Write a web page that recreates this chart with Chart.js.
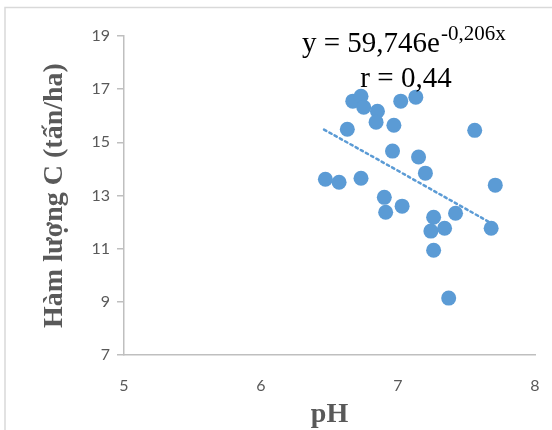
<!DOCTYPE html>
<html>
<head>
<meta charset="utf-8">
<script src="https://cdn.jsdelivr.net/npm/chart.js@4"></script>
<style>
  html, body { margin: 0; padding: 0; background: #fff; }
  #wrap { width: 552px; height: 430px; }
</style>
</head>
<body>
<div id="wrap"><canvas id="myChart" width="552" height="430"></canvas></div>
<script>
// pH vs carbon content
var phValues = [6.67, 6.73, 6.75, 6.85, 6.84, 6.97, 7.02, 7.13, 6.63,
                6.47, 6.57, 6.73, 6.90, 6.91, 7.03, 7.26, 7.24, 7.34,
                7.42, 7.68, 7.26, 7.56, 6.96, 7.15, 7.20, 7.71, 7.37];
var carbonValues = [16.55, 16.73, 16.32, 16.17, 15.76, 15.64, 16.55, 16.70, 15.49,
                    13.61, 13.50, 13.65, 12.93, 12.37, 12.60, 12.18, 11.66, 11.77,
                    12.33, 11.77, 10.94, 15.45, 14.67, 14.45, 13.84, 13.39, 9.14];
// dotted trend line ends (as drawn)
var trendX = [6.46, 7.00, 7.68];
var trendY = [15.48, 13.93, 11.96];
var yTicks = [7, 9, 11, 13, 15, 17, 19];
var xTicks = [5, 6, 7, 8];

var blue = '#5b9bd5';
var grey = '#595959';
var axisGrey = '#bfbfbf';

var points = phValues.map(function (x, i) { return { x: x, y: carbonValues[i] }; });
var trend = trendX.map(function (x, i) { return { x: x, y: trendY[i] }; });

var frameAndText = {
    id: 'frameAndText',
    beforeDraw: function (chart) {
        var c = chart.ctx;
        c.save();
        c.fillStyle = '#fff';
        c.fillRect(0, 0, chart.width, chart.height);
        c.strokeStyle = '#d9d9d9';
        c.lineWidth = 1.5;
        c.strokeRect(5, 7.5, 700, 600);
        c.restore();
    },
    afterDraw: function (chart) {
        var c = chart.ctx;
        c.save();
        c.fillStyle = '#000';
        c.textBaseline = 'alphabetic';
        c.textAlign = 'left';
        c.font = '29px "Liberation Serif"';
        var main = 'y = 59,746e';
        c.fillText(main, 302, 52);
        var w = c.measureText(main).width;
        c.font = '21px "Liberation Serif"';
        c.fillText('-0,206x', 302 + w + 1, 40);
        c.font = '29px "Liberation Serif"';
        c.textAlign = 'center';
        c.fillText('r = 0,44', 406, 87);
        c.restore();
    }
};

var ctx = document.getElementById('myChart').getContext('2d');
var myChart = new Chart(ctx, {
    type: 'scatter',
    data: {
        datasets: [{
            label: 'trend',
            type: 'line',
            data: trend,
            borderColor: blue,
            borderWidth: 2.5,
            borderDash: [2.5, 3.5],
            borderCapStyle: 'round',
            pointRadius: 0,
            fill: false,
            tension: 0.4
        }, {
            label: 'data',
            data: points,
            backgroundColor: blue,
            borderColor: blue,
            borderWidth: 0,
            pointRadius: 7.5
        }]
    },
    options: {
        responsive: false,
        animation: false,
        layout: { autoPadding: false, padding: { top: 36, right: 17, left: 0, bottom: 0 } },
        plugins: {
            legend: { display: false },
            tooltip: { enabled: false }
        },
        scales: {
            x: {
                type: 'linear',
                min: 5, max: 8,
                afterBuildTicks: function (s) { s.ticks = xTicks.map(function (v) { return { value: v }; }); },
                afterFit: function (s) { s.height = 75; },
                // invisible tick marks only push the labels down
                grid: { drawOnChartArea: false, drawTicks: true, tickLength: 19, color: 'rgba(0,0,0,0)' },
                border: { color: axisGrey, width: 1.5 },
                ticks: { color: grey, padding: 2, font: { family: 'Lato', size: 16 } },
                title: {
                    display: true, text: 'pH', color: grey,
                    font: { family: 'Liberation Serif', size: 28, weight: 'bold' },
                    padding: { top: 0, bottom: -2 }
                }
            },
            y: {
                min: 7, max: 19,
                afterBuildTicks: function (s) { s.ticks = yTicks.map(function (v) { return { value: v }; }); },
                afterFit: function (s) { s.width = 124; },
                grid: { drawOnChartArea: false, drawTicks: true, tickLength: 7, color: axisGrey, lineWidth: 1.5 },
                border: { color: axisGrey, width: 1.5 },
                ticks: { color: grey, padding: 7, font: { family: 'Lato', size: 16 } },
                title: {
                    display: true, text: 'Hàm lượng C (tấn/ha)', color: grey,
                    font: { family: 'Liberation Serif', size: 28, weight: 'bold' },
                    padding: { top: 38, bottom: 0 }
                }
            }
        }
    },
    plugins: [frameAndText]
});
</script>
</body>
</html>
